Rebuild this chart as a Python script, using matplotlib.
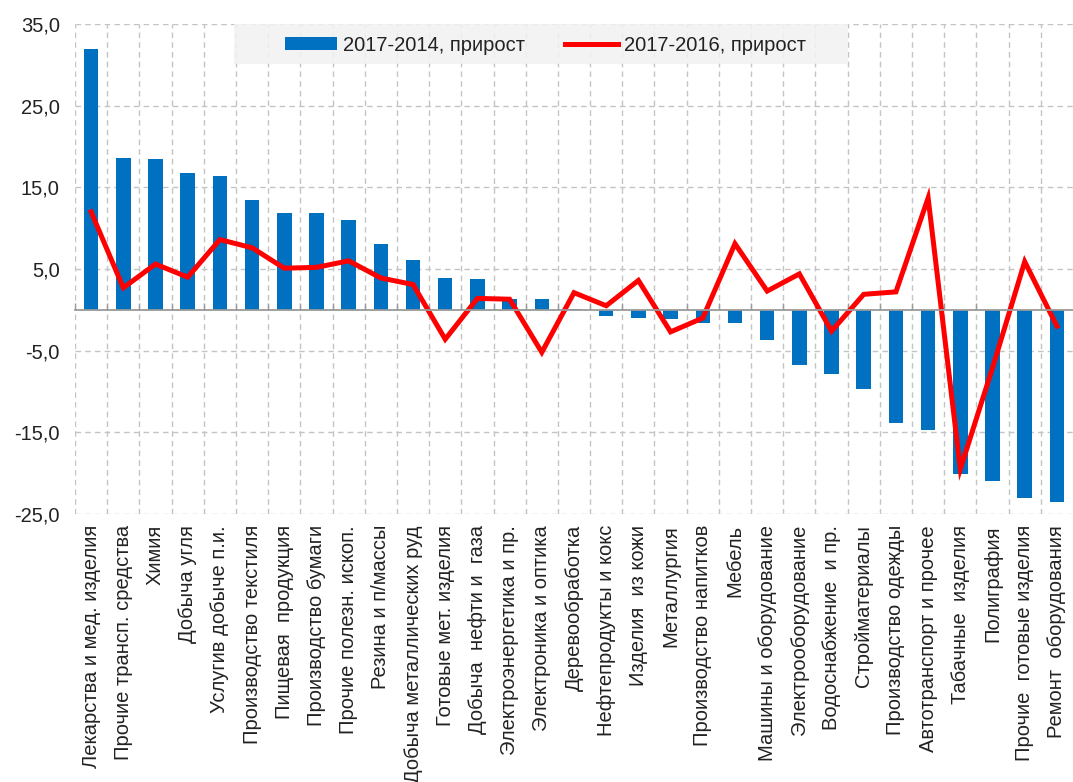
import matplotlib
matplotlib.use("Agg")
import matplotlib.pyplot as plt
from matplotlib.patches import Rectangle
from matplotlib.ticker import FuncFormatter, FixedLocator
import numpy as np

plt.rcParams['font.family'] = ['Liberation Sans', 'DejaVu Sans']

categories = [
    "Лекарства и мед. изделия", "Прочие трансп. средства", "Химия", "Добыча угля",
    "Услугив добыче п.и.", "Производство текстиля", "Пищевая  продукция",
    "Производство бумаги", "Прочие полезн. ископ.", "Резина и п/массы",
    "Добыча металлических руд", "Готовые мет. изделия", "Добыча  нефти и  газа",
    "Электроэнергетика и пр.", "Электроника и оптика", "Деревообработка",
    "Нефтепродукты и кокс", "Изделия  из кожи", "Металлургия",
    "Производство напитков", "Мебель", "Машины и оборудование",
    "Электрооборудование", "Водоснабжение  и пр.", "Стройматериалы",
    "Производство одежды", "Автотранспорт и прочее", "Табачные  изделия",
    "Полиграфия", "Прочие  готовые изделия", "Ремонт  оборудования",
]

growth_2014 = [31.9, 18.6, 18.5, 16.8, 16.4, 13.5, 11.9, 11.8, 11.0, 8.1,
               6.1, 3.9, 3.8, 1.3, 1.3, 0.1, -0.8, -1.0, -1.1, -1.6,
               -1.6, -3.7, -6.8, -7.8, -9.7, -13.8, -14.7, -20.1, -21.0, -23.0,
               -23.5]

growth_2016 = [12.0, 2.7, 5.6, 4.0, 8.6, 7.6, 5.1, 5.2, 6.0, 3.9,
               3.1, -3.6, 1.4, 1.3, -5.2, 2.1, 0.5, 3.6, -2.7, -1.0,
               8.1, 2.3, 4.4, -2.6, 1.9, 2.2, 13.7, -19.5, -7.1, 5.9,
               -2.0]

yticks = [35, 25, 15, 5, -5, -15, -25]

x = np.arange(len(categories))

fig = plt.figure(figsize=(10.73, 7.82), dpi=100)
ax = fig.add_axes([75 / 1073, 1 - 514 / 782, 998 / 1073, 490 / 782])

bars = ax.bar(x, growth_2014, width=0.45, color='#0070C0', zorder=3,
              label='2017-2014, прирост')
line, = ax.plot(x, growth_2016, color='#FF0000', lw=3.6, zorder=4,
                solid_joinstyle='miter', label='2017-2016, прирост')

ax.set_xlim(-0.5, len(categories) - 0.5)
ax.set_ylim(-25, 35)
ax.set_yticks(yticks)
ax.yaxis.set_major_formatter(FuncFormatter(lambda v, p: f"{v:.1f}".replace('.', ',')))
ax.tick_params(axis='y', length=0, pad=11, labelsize=14.5, labelcolor='#222222')

# сетка
ax.xaxis.set_minor_locator(FixedLocator(x - 0.5))
ax.set_xticks(x)
ax.grid(which='major', axis='y', color='#c4c4c4', linestyle=(0, (4, 3)), lw=1, zorder=0)
ax.grid(which='minor', axis='x', color='#c4c4c4', linestyle=(0, (4, 3)), lw=1, zorder=0)

for s in ['top', 'right', 'left']:
    ax.spines[s].set_visible(False)
ax.spines['bottom'].set_position(('data', 0))
ax.spines['bottom'].set_color('#9a9a9a')
ax.spines['bottom'].set_linewidth(1.3)
ax.spines['bottom'].set_zorder(5)
ax.tick_params(axis='x', which='major', length=0, labelbottom=False)
ax.tick_params(axis='x', which='minor', length=5, direction='in', color='#9a9a9a', width=1)

sec = ax.secondary_xaxis('bottom')
sec.set_xticks(x)
sec.set_xticklabels(categories, rotation=90, fontsize=14.5, color='#222222')
sec.tick_params(length=0, pad=8)
sec.spines['bottom'].set_visible(False)

# легенда
ax.add_patch(Rectangle(((234 - 75) / 998, (514 - 64) / 490), (848 - 234) / 998, 40 / 490,
                       transform=ax.transAxes, facecolor='#f2f2f2', alpha=0.85,
                       edgecolor='none', zorder=6, clip_on=False))
leg = ax.legend(handles=[bars, line], loc='center', bbox_to_anchor=(0.471, 0.957), ncol=2,
                frameon=False, fontsize=14.5, handlelength=2.6, handleheight=0.55,
                handletextpad=0.3, columnspacing=2.0)
leg.set_zorder(7)
for t in leg.get_texts():
    t.set_color('#222222')

plt.savefig("out.png", dpi=100)
